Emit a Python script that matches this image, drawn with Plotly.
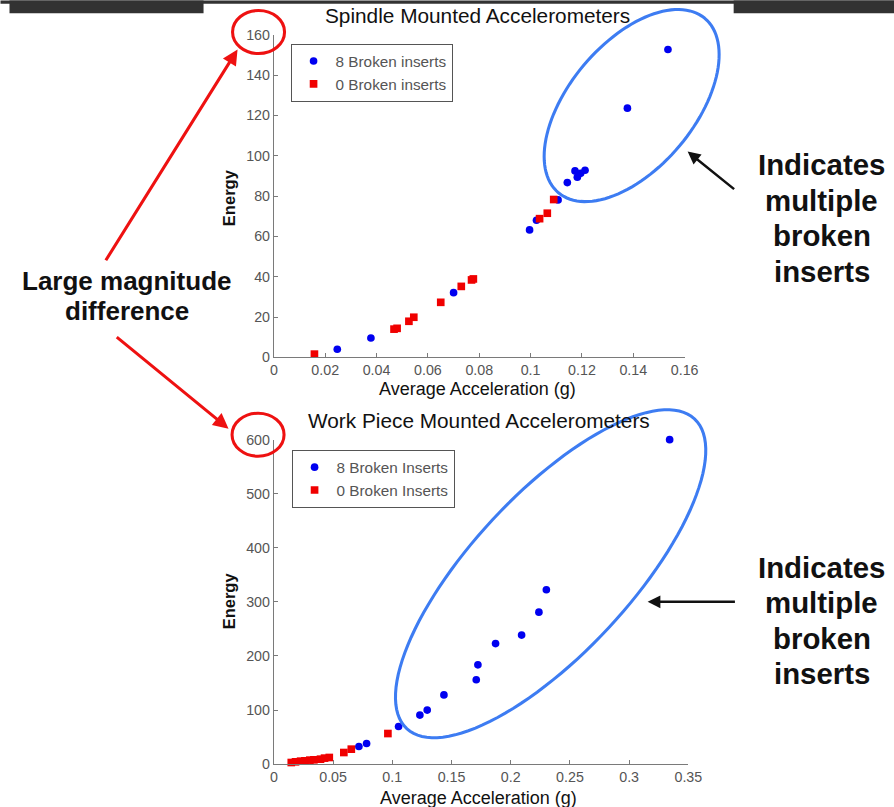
import numpy as np
import plotly.graph_objects as go

# ---------------- data ----------------
top_title = "Spindle Mounted Accelerometers"
bot_title = "Work Piece Mounted Accelerometers"

top_x_broken = [0.0247, 0.0378, 0.0700, 0.0996, 0.1023, 0.1107, 0.1143, 0.1173, 0.1182, 0.1195, 0.1212, 0.1377, 0.1535]
top_y_broken = [4.0, 9.6, 32.1, 63.2, 68.0, 78.1, 86.7, 92.5, 89.4, 91.3, 92.8, 123.6, 152.7]
top_x_ok = [0.0158, 0.0468, 0.0480, 0.0526, 0.0545, 0.0650, 0.0730, 0.0770, 0.0777, 0.1035, 0.1065, 0.1090]
top_y_ok = [1.6, 14.0, 14.4, 17.9, 19.9, 27.3, 35.2, 38.4, 38.9, 68.8, 71.5, 78.3]

bot_x_broken = [0.0718, 0.0783, 0.1053, 0.1233, 0.1295, 0.1436, 0.1709, 0.1723, 0.1872, 0.2092, 0.2238, 0.2301, 0.3342]
bot_y_broken = [32.6, 38.1, 69.6, 90.7, 100.0, 128.0, 156.0, 183.7, 223.0, 238.7, 281.0, 322.5, 600.0]
bot_x_ok = [0.0147, 0.0183, 0.0226, 0.0262, 0.0304, 0.0338, 0.0394, 0.0428, 0.0468, 0.0591, 0.0654, 0.0963]
bot_y_ok = [3.0, 4.3, 5.5, 6.1, 7.4, 8.0, 9.2, 11.1, 12.3, 21.5, 27.7, 56.6]

top_xticks = [0, 0.02, 0.04, 0.06, 0.08, 0.10, 0.12, 0.14, 0.16]
top_xtext = ["0", "0.02", "0.04", "0.06", "0.08", "0.1", "0.12", "0.14", "0.16"]
top_yticks = [0, 20, 40, 60, 80, 100, 120, 140, 160]
bot_xticks = [0, 0.05, 0.10, 0.15, 0.20, 0.25, 0.30, 0.35]
bot_xtext = ["0", "0.05", "0.1", "0.15", "0.2", "0.25", "0.3", "0.35"]
bot_yticks = [0, 100, 200, 300, 400, 500, 600]

top_names = ["8 Broken inserts", "0 Broken inserts"]
bot_names = ["8 Broken Inserts", "0 Broken Inserts"]
x_label = "Average Acceleration (g)"
y_label = "Energy"
left_text = ["Large magnitude", "difference"]
right_text = ["Indicates", "multiple", "broken", "inserts"]

# ---------------- geometry ----------------
# Observed photograph mapping: picture = S * page + (OX, OY)
S = 0.98
OX, OY = 3.5, 7.5
FW, FH = 910, 818          # figure size in page pixels (covers the whole photo)

FONT = "Liberation Sans, Arial, sans-serif"
BLUE = "#0000f0"
RED = "#f00000"
AXC = "#7a7a7a"


def px(x):
    return ((x - OX) / S) / FW


def py(y):
    return 1 - ((y - OY) / S) / FH


def sz(v):
    return v / S


fig = go.Figure()

fig.add_trace(go.Scatter(x=top_x_broken, y=top_y_broken, mode="markers", name=top_names[0],
                         marker=dict(symbol="circle", size=sz(7.5), color=BLUE),
                         xaxis="x", yaxis="y", legend="legend", cliponaxis=False))
fig.add_trace(go.Scatter(x=top_x_ok, y=top_y_ok, mode="markers", name=top_names[1],
                         marker=dict(symbol="square", size=sz(7.5), color=RED),
                         xaxis="x", yaxis="y", legend="legend", cliponaxis=False))
fig.add_trace(go.Scatter(x=bot_x_broken, y=bot_y_broken, mode="markers", name=bot_names[0],
                         marker=dict(symbol="circle", size=sz(7.5), color=BLUE),
                         xaxis="x2", yaxis="y2", legend="legend2", cliponaxis=False))
fig.add_trace(go.Scatter(x=bot_x_ok, y=bot_y_ok, mode="markers", name=bot_names[1],
                         marker=dict(symbol="square", size=sz(7.5), color=RED),
                         xaxis="x2", yaxis="y2", legend="legend2", cliponaxis=False))

axis_common = dict(showline=True, linecolor=AXC, linewidth=1, ticks="inside", ticklen=4,
                   tickcolor=AXC, showgrid=False, zeroline=False,
                   tickfont=dict(family=FONT, size=sz(14), color="#555"), fixedrange=True)

legend_common = dict(xanchor="left", yanchor="top", bordercolor="#555", borderwidth=1,
                     bgcolor="white", itemwidth=34,
                     font=dict(family=FONT, size=15.3, color="#555"))

fig.update_layout(
    width=FW, height=FH, autosize=False,
    margin=dict(l=0, r=0, t=0, b=0, pad=0),
    paper_bgcolor="white", plot_bgcolor="white",
    xaxis=dict(domain=[px(273.3), px(684)], range=[0, 0.16], anchor="y",
               tickvals=top_xticks, ticktext=top_xtext, **axis_common),
    yaxis=dict(domain=[py(356.7), py(34.3)], range=[0, 160], anchor="x",
               tickvals=top_yticks, **axis_common),
    xaxis2=dict(domain=[px(273.3), px(687.7)], range=[0, 0.35], anchor="y2",
                tickvals=bot_xticks, ticktext=bot_xtext, **axis_common),
    yaxis2=dict(domain=[py(763.3), py(439)], range=[0, 600], anchor="x2",
                tickvals=bot_yticks, **axis_common),
    legend=dict(x=px(290), y=py(43), **legend_common),
    legend2=dict(x=px(291), y=py(449), **legend_common),
)

shapes = []
# dark band at the top
DARK = "#323232"
for (x0, y0, x1, y1) in [(0, 0, 900, 3.3), (9, 0, 203, 12.7), (733, 0, 900, 12.7)]:
    shapes.append(dict(type="rect", xref="paper", yref="paper", x0=px(x0), x1=px(x1),
                       y0=py(y1), y1=py(y0), fillcolor=DARK, line=dict(width=0), layer="above"))

# red circles round the top tick labels
for (cx, cy) in [(258, 31.5), (257.5, 434)]:
    shapes.append(dict(type="circle", xref="paper", yref="paper",
                       x0=px(cx - 26), x1=px(cx + 26), y0=py(cy + 21.5), y1=py(cy - 21.5),
                       line=dict(color="#ee1111", width=sz(3)), layer="above"))


def ellipse_path(cx, cy, a, b, theta_deg, n=120):
    th = np.radians(theta_deg)
    t = np.linspace(0, 2 * np.pi, n, endpoint=False)
    xs = cx + a * np.cos(th) * np.cos(t) - b * np.sin(th) * np.sin(t)
    ys = cy - (a * np.sin(th) * np.cos(t) + b * np.cos(th) * np.sin(t))
    pts = [f"{px(x):.5f},{py(y):.5f}" for x, y in zip(xs, ys)]
    return "M " + " L ".join(pts) + " Z"


for (cx, cy, a, b, th) in [(631, 105, 113.8, 62.6, 50), (550, 573, 211.3, 79.3, 47.1)]:
    shapes.append(dict(type="path", xref="paper", yref="paper", path=ellipse_path(cx, cy, a, b, th),
                       line=dict(color="#3d7cf2", width=sz(3)), layer="above"))

fig.update_layout(shapes=shapes)

ann = []


def text_ann(text, x, y, size, angle=0):
    return dict(text=text, x=px(x), y=py(y), xref="paper", yref="paper",
                xanchor="center", yanchor="middle", textangle=angle,
                showarrow=False, font=dict(family=FONT, size=size, color="#111"))


# chart titles
ann.append(text_ann(top_title, 477, 15, 20.8))
ann.append(text_ann(bot_title, 478, 420, 20.8))
# axis titles
for (xx, yy) in [(477, 388), (478, 797)]:
    ann.append(text_ann(x_label, xx, yy, 18))
for (xx, yy) in [(228, 197), (228, 600)]:
    ann.append(text_ann("<b>" + y_label + "</b>", xx, yy, 16.5, -90))

# left big text
for txt, yy in zip(left_text, [280.5, 310.5]):
    ann.append(text_ann("<b>" + txt + "</b>", 126, yy, 26))
# right big text
for base in [164, 566.5]:
    for i, txt in enumerate(right_text):
        ann.append(text_ann("<b>" + txt + "</b>", 821, base + 35.5 * i, 29.4))

# arrows (head at x,y ; tail offset in pixels)
for (hx, hy, tx, ty, col, w) in [(237, 49, 107, 257, "#ee1111", 3),
                                 (228, 428, 117, 337, "#ee1111", 3),
                                 (687, 151, 734, 189, "#111", 2.5),
                                 (647, 601, 734, 601, "#111", 2.5)]:
    ann.append(dict(text="", x=px(hx), y=py(hy), xref="paper", yref="paper",
                    ax=(tx - hx) / S, ay=(ty - hy) / S, axref="pixel", ayref="pixel",
                    showarrow=True, arrowhead=2, arrowsize=1, arrowwidth=sz(w), arrowcolor=col,
                    standoff=0, startstandoff=0))

fig.update_layout(annotations=ann)

fig.write_html("out.html", config={"displayModeBar": False},
               post_script="document.body.style.margin='0';document.body.style.padding='0';"
                           "document.documentElement.style.overflow='hidden';")
